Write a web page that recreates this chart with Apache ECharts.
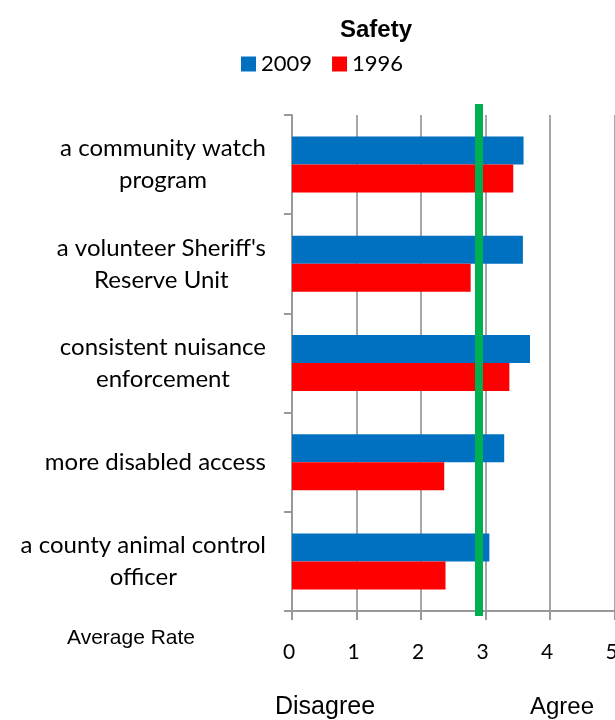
<!DOCTYPE html>
<html>
<head>
<meta charset="utf-8">
<script src="https://cdn.jsdelivr.net/npm/echarts@6/dist/echarts.min.js"></script>
<style>
html, body { margin: 0; padding: 0; background: #fff; }
#chart { width: 615px; height: 720px; }
</style>
</head>
<body>
<div id="chart"></div>
<script>
var categories = [
    "a community watch\nprogram",
    "a volunteer Sheriff's\nReserve Unit",
    "consistent nuisance\nenforcement",
    "more disabled access",
    "a county animal control\nofficer"
];
var values2009 = [3.59, 3.58, 3.69, 3.29, 3.06];
var values1996 = [3.43, 2.77, 3.37, 2.36, 2.38];
var averageRate = 2.9;
var xMin = 0, xMax = 5, xStep = 1;

var labelFont = 'Lato';
var gridGray = '#a6a6a6';

var chart = echarts.init(document.getElementById('chart'), null, {renderer: 'canvas'});

chart.setOption({
    backgroundColor: '#fff',
    animation: false,
    title: {
        text: 'Safety',
        left: 335,
        top: 13,
        textStyle: {fontFamily: 'Liberation Sans', fontWeight: 'bold', fontSize: 24, color: '#000'}
    },
    legend: {
        data: ['2009', '1996'],
        left: 236,
        top: 48,
        icon: 'rect',
        itemWidth: 15,
        itemHeight: 15,
        itemGap: 20,
        textStyle: {fontFamily: labelFont, fontSize: 22, color: '#000'}
    },
    grid: [
        {left: 292, right: 0.5, top: 115, bottom: 109, outerBoundsMode: 'none'},
        // taller grid only used for the average marker line
        {left: 292, right: 0.5, top: 104, bottom: 104, outerBoundsMode: 'none'}
    ],
    xAxis: [{
        type: 'value',
        gridIndex: 0,
        min: xMin,
        max: xMax,
        interval: xStep,
        axisLine: {show: true, lineStyle: {color: '#999', width: 2}},
        axisTick: {show: true, length: 9, lineStyle: {color: '#999', width: 2}},
        axisLabel: {margin: 31, padding: [0, 6, 0, 0], fontFamily: labelFont, fontSize: 21, color: '#000'},
        splitLine: {show: true, lineStyle: {color: gridGray, width: 2}}
    }, {
        type: 'value',
        gridIndex: 1,
        min: xMin,
        max: xMax,
        show: false
    }],
    yAxis: [{
        type: 'category',
        gridIndex: 0,
        inverse: true,
        data: categories,
        axisLine: {show: true, lineStyle: {color: '#999', width: 2}},
        axisTick: {show: true, length: 8, lineStyle: {color: '#999', width: 2}},
        axisLabel: {
            margin: 26,
            formatter: function (v) {
                return v.split('\n').map(function (s) { return '{c|' + s + '}'; }).join('\n');
            },
            rich: {
                c: {align: 'center', fontFamily: labelFont, fontSize: 24, color: '#000', lineHeight: 32}
            }
        },
        splitLine: {show: false}
    }, {
        type: 'value',
        gridIndex: 1,
        min: 0,
        max: 1,
        show: false
    }],
    series: [{
        name: '2009',
        type: 'bar',
        data: values2009,
        barWidth: 28,
        barGap: '0%',
        itemStyle: {color: '#0070c0'}
    }, {
        name: '1996',
        type: 'bar',
        data: values1996,
        barWidth: 28,
        barGap: '0%',
        itemStyle: {color: '#ff0000'}
    }, {
        name: 'average',
        type: 'line',
        xAxisIndex: 1,
        yAxisIndex: 1,
        data: [],
        z: 5,
        markLine: {
            silent: true,
            symbol: 'none',
            label: {show: false},
            lineStyle: {color: '#00b050', width: 8, type: 'solid'},
            data: [{xAxis: averageRate}]
        }
    }],
    graphic: [
        {type: 'text', left: 67, top: 628, style: {text: 'Average Rate', fontFamily: 'Liberation Sans', fontSize: 21, fill: '#000'}},
        {type: 'text', left: 275, top: 695, style: {text: 'Disagree', fontFamily: 'Liberation Sans', fontSize: 25, fill: '#000'}},
        {type: 'text', left: 530, top: 695, style: {text: 'Agree', fontFamily: 'Liberation Sans', fontSize: 24, fill: '#000'}}
    ]
});
</script>
</body>
</html>
